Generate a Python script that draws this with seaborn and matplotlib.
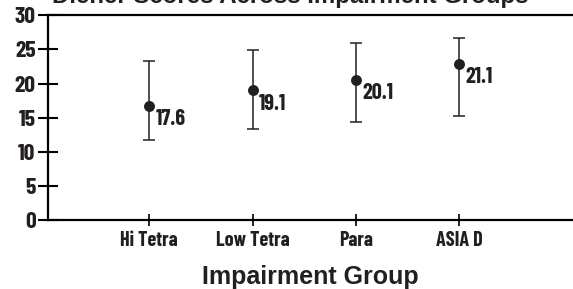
import numpy as np
import pandas as pd
import matplotlib
matplotlib.use("Agg")
import matplotlib.pyplot as plt
import seaborn as sns

# ---- data ----
groups = ["Hi Tetra", "Low Tetra", "Para", "ASIA D"]
means = [16.7, 19.0, 20.5, 22.9]
upper = [23.3, 24.9, 25.9, 26.7]
lower = [11.7, 13.3, 14.4, 15.2]
value_labels = ["17.6", "19.1", "20.1", "21.1"]
y_ticks = [0, 5, 10, 15, 20, 25, 30]

title = "Diener Scores Across Impairment Groups"
xlabel = "Impairment Group"

sns.set_theme(style="white")
narrow = ["Barlow Condensed", "DejaVu Sans"]
plt.rcParams["font.family"] = ["Liberation Sans", "DejaVu Sans"]

ink = "#231f20"
nweight = 700

fig = plt.figure(figsize=(5.73, 2.89), dpi=100)
ax = fig.add_axes([48 / 573, 1 - 220 / 289, 1 - 48 / 573, (220 - 15.3) / 289])

df = pd.DataFrame({"group": groups, "mean": means, "lo": lower, "hi": upper})
xpos = np.arange(len(groups))
df["x"] = xpos

ax.errorbar(df["x"], df["mean"],
            yerr=[df["mean"] - df["lo"], df["hi"] - df["mean"]],
            fmt="none", ecolor=ink, elinewidth=1.1, capsize=4, capthick=1.1, zorder=2)
sns.scatterplot(data=df, x="x", y="mean", ax=ax, color=ink, s=62,
                edgecolor=ink, linewidth=0, zorder=3, legend=False)

for xi, yi, lab in zip(df["x"], df["mean"], value_labels):
    ax.annotate(lab, (xi, yi), xytext=(4.5, -9.5), textcoords="offset points",
                ha="left", va="center", fontsize=16, fontweight=nweight,
                family=narrow, color=ink)

ax.set_xlim(-0.98, 4.1)
ax.set_ylim(0, 30)
ax.set_yticks(y_ticks)
ax.set_yticklabels([str(t) for t in y_ticks], family=narrow, fontsize=17,
                   fontweight=nweight, color=ink)
ax.set_xticks(xpos)
ax.set_xticklabels(groups, family=narrow, fontsize=14.5, fontweight=nweight, color=ink)

ax.tick_params(axis="y", direction="inout", length=14, width=1.5, color="black", pad=2,
               left=True)
ax.tick_params(axis="x", direction="inout", length=8, width=1.2, color="black", pad=4,
               bottom=True)

for side in ["left", "top", "bottom"]:
    ax.spines[side].set_visible(True)
    ax.spines[side].set_color("black")
    ax.spines[side].set_linewidth(1.6)
ax.spines["right"].set_visible(False)
ax.set_xlabel(xlabel, fontsize=18, fontweight="bold", color=ink, labelpad=11)
ax.set_ylabel("")
ax.grid(False)

fig.text(290 / 573, 1 - 2.5 / 289, title, ha="center", va="baseline", fontsize=17.3,
         fontweight="bold", color=ink)

fig.savefig("out.png", dpi=100)
